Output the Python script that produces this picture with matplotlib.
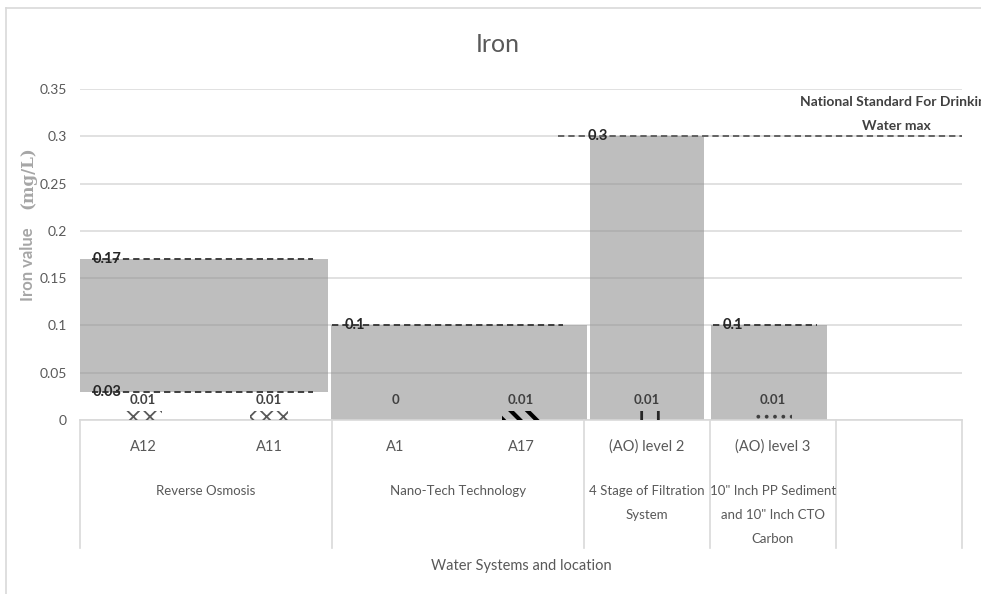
import matplotlib
matplotlib.use("Agg")
import matplotlib.pyplot as plt
import matplotlib.transforms as mtransforms
from matplotlib.lines import Line2D
import numpy as np

# ---------------- data ----------------
categories = ["A12", "A11", "A1", "A17", "(AO) level 2", "(AO) level 3", ""]
sample_values = [0.01, 0.01, 0, 0.01, 0.01, 0.01]
groups = ["Reverse Osmosis", "Nano-Tech Technology",
          "4 Stage of Filtration\nSystem",
          "10\" Inch PP Sediment\nand 10\" Inch CTO\nCarbon", ""]
group_sizes = [2, 2, 1, 1, 1]
range_low = [0.03, 0, 0, 0]
range_high = [0.17, 0.1, 0.3, 0.1]
standard_value = 0.3
standard_label = "National Standard For Drinking\nWater max"
y_ticks = [0, 0.05, 0.1, 0.15, 0.2, 0.25, 0.3, 0.35]
title = "Iron"
x_label = "Water Systems and location"

# ---------------- style / layout ----------------
plt.rcParams["font.family"] = ["Lato", "DejaVu Sans"]
plt.rcParams["hatch.linewidth"] = 1.5
W, H = 981, 594
TXT = "#595959"
GRID = "#D9D9D9"

bar_left_off = [0.0, -0.01, 0.05, 0.01]
bar_right_off = [-0.03, 0.02, -0.05, -0.07]
dash_span = [(0.095, 1.85), (2.0, 3.83), None, (5.02, 5.85)]
label_left = [0.10, 2.10, 4.03, 5.10]
std_span = (3.79, 7.0)
hatches = ["xx", "xx", "", "\\\\", "|", ".."]
hatch_cols = ["#595959", "#595959", "#262626", "#000000", "#262626", "#404040"]
hatch_lws = [1.3, 1.3, 1.0, 3.0, 2.0, 1.5]

fig = plt.figure(figsize=(W / 100, H / 100), dpi=100)
ax = fig.add_axes([80 / W, 1 - 420 / H, 882 / W, 331 / H])
ax.set_xlim(0, len(categories))
ax.set_ylim(0, 0.35)
ax.patch.set_alpha(0)
for s in ["top", "right", "left"]:
    ax.spines[s].set_visible(False)
ax.spines["bottom"].set_color(GRID)
ax.spines["bottom"].set_linewidth(1.2)
ax.set_axisbelow(True)
ax.yaxis.grid(True, color=GRID, lw=1.1)
ax.set_yticks(y_ticks)
ax.set_yticklabels([f"{v:g}" for v in y_ticks])
ax.tick_params(axis="y", length=0, pad=9.5, labelsize=10, labelcolor=TXT)
ax.set_xticks([])

starts = np.concatenate([[0], np.cumsum(group_sizes)])

# grey range bars
for g in range(len(range_high)):
    left = starts[g] + bar_left_off[g]
    right = starts[g + 1] + bar_right_off[g]
    ax.bar(left, range_high[g] - range_low[g], width=right - left,
           bottom=range_low[g], align="edge", color="#8c8c8c", alpha=0.56,
           lw=0, zorder=2)
    vals = [range_high[g]] + ([range_low[g]] if range_low[g] > 0 else [])
    for v in vals:
        if dash_span[g] is not None:
            ax.plot(dash_span[g], [v, v], color="#333333", lw=1.3,
                    ls=(0, (3.5, 2.2)), zorder=4)
        ax.text(label_left[g], v, f"{v:g}", ha="left", va="center",
                fontsize=10.5, fontweight="bold", color="#262626", zorder=5)

# standard line
ax.plot(std_span, [standard_value, standard_value], color="#595959", lw=1.3,
        ls=(0, (3.5, 2.2)), zorder=4)
for i, line in enumerate(standard_label.split("\n")):
    off = mtransforms.ScaledTranslation(0, (12 - 24 * i) / 100, fig.dpi_scale_trans)
    ax.text(6.48, 0.3236, line, ha="center", va="center", fontsize=10,
            fontweight="bold", color="#404040", transform=ax.transData + off,
            clip_on=False)

# sample bars (patterned)
for i, v in enumerate(sample_values):
    bars = ax.bar(i + 0.5, v, width=0.3, color="none", edgecolor=hatch_cols[i],
                  lw=0, hatch=hatches[i], zorder=3)
    for p in bars:
        try:
            p.set_hatch_linewidth(hatch_lws[i])
        except AttributeError:
            pass
    ax.annotate(f"{v:g}", (i + 0.5, v), xytext=(0, 7.4 if v else 14.6),
                textcoords="offset points", ha="center", va="center",
                fontsize=9.5, fontweight="bold", color="#404040", zorder=5)

# hierarchical category axis
xt = ax.get_xaxis_transform()
def below(px):
    return xt + mtransforms.ScaledTranslation(0, -px / 100, fig.dpi_scale_trans)

for i, c in enumerate(categories):
    ax.text(i + 0.5, 0, c, ha="center", va="center", fontsize=10.5, color=TXT,
            transform=below(27), clip_on=False)
for g, name in enumerate(groups):
    cx = (starts[g] + starts[g + 1]) / 2
    for j, line in enumerate(name.split("\n")):
        ax.text(cx, 0, line, ha="center", va="center", fontsize=9.5, color=TXT,
                transform=below(71 + 24 * j), clip_on=False)
for bnd in starts:
    ax.plot([bnd, bnd], [0, -128 / 331], transform=xt, color=GRID, lw=1.2,
            clip_on=False)

# titles
fig.text(498 / W, 1 - 45 / H, title, ha="center", va="center", fontsize=18,
         color=TXT)
fig.text(521 / W, 1 - 566 / H, x_label, ha="center", va="center",
         fontsize=10.5, color=TXT)
fig.text(28 / W, 1 - 264 / H, "Iron value", rotation=90, ha="center",
         va="center", fontsize=12, fontweight="bold", color="#A6A6A6")
fig.text(28 / W, 1 - 178 / H, "(mg/L)", rotation=90, ha="center",
         va="center", fontsize=12, fontweight="bold", color="#A6A6A6",
         family="DejaVu Serif")

# chart border
fig.add_artist(Line2D([6 / W, 6 / W], [0, 1 - 8 / H], color=GRID, lw=1.2))
fig.add_artist(Line2D([6 / W, 1], [1 - 8 / H, 1 - 8 / H], color=GRID, lw=1.2))

fig.savefig("out.png", dpi=100)
